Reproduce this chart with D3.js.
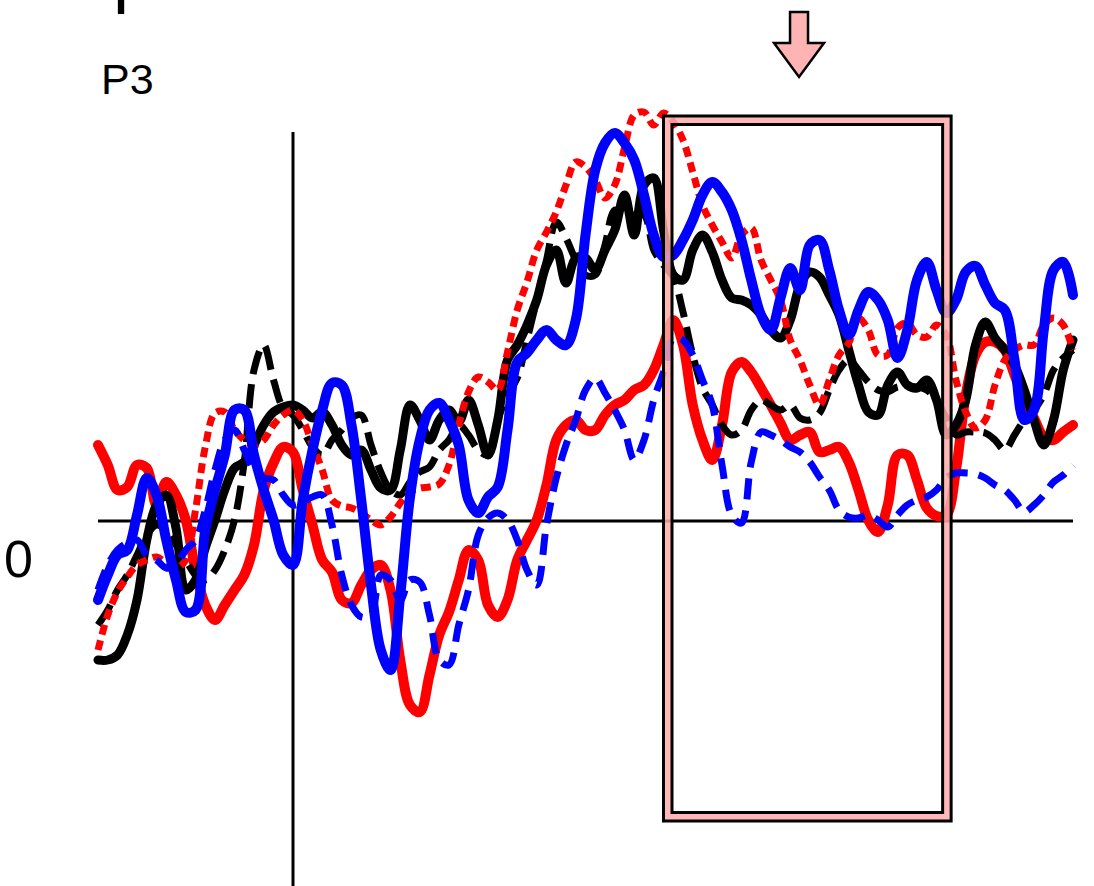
<!DOCTYPE html>
<html>
<head>
<meta charset="utf-8">
<script src="https://cdn.jsdelivr.net/npm/d3@7"></script>
<style>
  body { margin: 0; background: #fff; }
  svg { display: block; font-family: "Liberation Sans", Arial, sans-serif; }
</style>
</head>
<body>
<svg width="1094" height="886"></svg>
<script>
// time base, ms (10 ms steps)
const times = d3.range(-200, 801, 10);

// amplitudes, uV, one per time point
const blackSolid = [
  -2.78, -2.78, -2.68, -2.28, -1.58, -0.38, 0.32, 0.52, -0.14, -1.38,
  -1.18, -0.54, 0.02, 0.62, 1.06, 1.18, 1.52, 1.92, 2.18, 2.28,
  2.32, 2.22, 2.06, 2.18, 1.92, 1.52, 1.32, 1.42, 1.02, 0.66,
  0.62, 1.42, 2.32, 2.02, 1.62, 2.02, 2.22, 1.98, 2.42, 1.92,
  1.32, 2.02, 3.22, 3.52, 3.92, 4.42, 5.12, 5.42, 4.76, 5.26,
  5.26, 5.02, 5.42, 5.82, 6.52, 5.72, 6.72, 6.86, 5.82, 4.92,
  4.82, 5.42, 5.72, 5.38, 4.82, 4.46, 4.42, 4.32, 4.12, 3.82,
  3.66, 4.02, 4.72, 4.98, 4.88, 4.52, 4.12, 3.42, 2.72, 2.18,
  2.12, 2.72, 2.98, 2.72, 2.66, 2.82, 2.42, 1.72, 1.92, 2.42,
  3.52, 3.98, 3.66, 3.42, 3.12, 2.62, 2.02, 1.52, 2.02, 3.02,
  3.62
];
const blackDashed = [
  -2.08, -1.78, -1.38, -1.08, -0.68, -0.28, -0.08, -0.18, -0.48, -0.78,
  -1.08, -1.18, -0.98, -0.58, 0.02, 1.18, 3.02, 3.52, 2.82, 2.26,
  2.12, 1.82, 1.48, 1.32, 1.62, 1.82, 2.06, 2.12, 1.52, 0.98,
  0.62, 0.52, 0.78, 0.98, 1.08, 1.42, 1.62, 1.92, 1.72, 1.42,
  1.32, 2.02, 2.52, 2.86, 3.62, 4.42, 5.22, 5.98, 5.66, 5.22,
  4.92, 4.92, 5.52, 6.22, 6.12, 6.12, 6.12, 5.42, 5.12, 4.88,
  4.18, 3.32, 2.66, 2.32, 1.92, 1.72, 1.82, 2.22, 2.42, 2.32,
  2.22, 2.32, 2.06, 2.02, 2.16, 2.62, 3.02, 3.22, 3.02, 2.78,
  2.62, 2.58, 2.68, 2.68, 2.68, 2.62, 2.42, 2.06, 1.72, 1.78,
  1.78, 1.76, 1.62, 1.42, 1.72, 2.02, 2.22, 2.52, 3.02, 3.26,
  3.42
];
const redSolid = [
  1.52, 1.12, 0.62, 0.68, 1.12, 1.06, 0.32, 0.78, 0.52, 0.02,
  -0.98, -1.68, -1.98, -1.68, -1.38, -1.08, -0.48, 0.62, 1.16, 1.48,
  1.38, 0.62, -0.08, -0.78, -1.02, -1.58, -1.64, -1.28, -0.98, -0.88,
  -1.38, -2.78, -3.68, -3.82, -3.08, -2.28, -1.82, -1.18, -0.58, -0.78,
  -1.68, -1.92, -1.58, -0.78, -0.38, 0.02, 0.72, 1.62, 1.92, 2.02,
  1.82, 1.82, 2.12, 2.32, 2.42, 2.62, 2.72, 3.02, 3.52, 4.02,
  3.52, 2.32, 1.62, 1.22, 1.92, 2.98, 3.18, 2.98, 2.66, 2.32,
  1.96, 1.62, 1.72, 1.78, 1.38, 1.42, 1.48, 1.18, 0.62, 0.02,
  -0.22, 0.32, 1.32, 1.32, 0.82, 0.26, 0.10, 0.12, 1.02, 2.52,
  3.32, 3.58, 3.58, 3.42, 2.92, 2.42, 2.06, 1.68, 1.62, 1.78,
  1.92
];
const redDashed = [
  -2.58, -1.88, -1.42, -1.12, -0.88, -0.78, -0.72, -0.84, -0.94, -0.78,
  0.22, 1.48, 2.16, 2.18, 1.82, 1.62, 1.52, 1.62, 1.92, 2.12,
  2.22, 2.02, 1.52, 1.02, 0.42, 0.30, 0.26, 0.16, 0.02, -0.08,
  0.08, 0.36, 0.58, 0.66, 0.68, 0.74, 1.12, 1.92, 2.58, 2.88,
  2.78, 2.62, 3.38, 4.22, 4.78, 5.42, 5.78, 6.18, 6.72, 7.18,
  7.08, 6.82, 6.46, 6.72, 7.46, 8.12, 8.18, 7.92, 8.16, 7.98,
  7.62, 6.98, 6.32, 5.92, 5.58, 5.26, 5.72, 5.86, 5.22, 4.82,
  4.42, 3.62, 3.22, 2.72, 2.32, 2.82, 3.32, 3.56, 4.06, 3.82,
  3.32, 3.32, 3.86, 3.96, 3.72, 3.68, 3.92, 3.72, 2.82, 2.18,
  1.86, 2.02, 2.72, 3.22, 3.42, 3.52, 3.52, 3.92, 4.06, 3.92,
  3.42
];
const blueSolid = [
  -1.58, -1.08, -0.68, -0.58, 0.12, 0.86, 0.52, -0.38, -1.18, -1.82,
  -1.78, -0.18, 0.62, 1.32, 2.22, 2.22, 1.32, 0.62, 0.02, -0.68,
  -0.88, 0.42, 1.42, 2.22, 2.76, 2.72, 1.92, 0.42, -1.28, -2.58,
  -2.98, -1.48, 0.48, 1.62, 2.22, 2.36, 2.02, 1.52, 0.42, 0.16,
  0.48, 0.68, 1.82, 3.18, 3.36, 3.62, 3.82, 3.62, 3.52, 4.02,
  5.72, 7.02, 7.56, 7.76, 7.56, 7.22, 6.52, 5.72, 5.28, 5.32,
  5.62, 6.02, 6.52, 6.78, 6.58, 6.22, 5.62, 4.82, 4.12, 3.82,
  4.46, 5.06, 4.62, 5.52, 5.62, 5.02, 4.22, 3.72, 4.22, 4.58,
  4.42, 4.02, 3.26, 3.82, 4.82, 5.18, 4.62, 4.16, 4.42, 4.98,
  5.10, 4.72, 4.36, 4.22, 3.22, 2.02, 2.22, 3.82, 5.02, 5.18,
  4.52
];
const blueDashed = [
  -1.38, -0.88, -0.58, -0.44, -0.38, -0.68, -0.78, -0.94, -0.88, -0.58,
  -0.38, 0.22, 1.02, 1.62, 1.82, 1.42, 1.02, 0.86, 0.82, 0.52,
  0.32, 0.38, 0.48, 0.52, -0.08, -1.08, -1.68, -1.92, -1.88, -1.08,
  -1.18, -1.58, -1.18, -1.22, -1.88, -2.78, -2.88, -2.08, -1.38, -0.28,
  0.06, 0.16, 0.02, -0.38, -0.98, -1.28, -0.08, 0.86, 1.52, 2.02,
  2.62, 2.86, 2.56, 2.22, 1.82, 1.22, 1.62, 2.42, 2.98, 3.66,
  3.62, 3.32, 2.82, 2.32, 1.12, 0.12, -0.04, 1.18, 1.78, 1.72,
  1.62, 1.48, 1.38, 1.18, 0.88, 0.62, 0.22, 0.08, 0.06, 0.12,
  0.02, -0.12, 0.12, 0.32, 0.42, 0.48, 0.62, 0.86, 0.96, 0.96,
  0.94, 0.86, 0.72, 0.62, 0.42, 0.18, 0.32, 0.52, 0.78, 0.92,
  1.12
];

// analysis window (ms) and its vertical extent (uV)
const windowStart = 380;
const windowEnd = 675;
const windowTop = 8.1;
const windowBottom = -6.0;
const arrowTime = 519;

const channelLabel = "P3";
const zeroLabel = "0";

const svg = d3.select("svg");

const x = d3.scaleLinear().domain([-200, 800]).range([98, 1073]);
const y = d3.scaleLinear().domain([-8, 10]).range([921, 21]);

// heading cut off by the top edge: only a descender shows
svg.append("text")
  .attr("x", 113)
  .attr("y", -1)
  .attr("font-size", 72)
  .text("p");

svg.append("text")
  .attr("x", 101)
  .attr("y", 94)
  .attr("font-size", 43)
  .text(channelLabel);

svg.append("text")
  .attr("x", 4)
  .attr("y", 577)
  .attr("font-size", 52)
  .text(zeroLabel);

// axes
svg.append("line")
  .attr("x1", x(-200)).attr("x2", x(800))
  .attr("y1", y(0)).attr("y2", y(0))
  .attr("stroke", "#000").attr("stroke-width", 3);

svg.append("line")
  .attr("x1", x(0)).attr("x2", x(0))
  .attr("y1", y(7.78)).attr("y2", 886)
  .attr("stroke", "#000").attr("stroke-width", 3);

// waveforms
const series = [
  { values: redSolid,    color: "#ff0000", width: 10, dash: null },
  { values: blackSolid,  color: "#000000", width: 9,  dash: null },
  { values: blackDashed, color: "#000000", width: 7,  dash: "24,10" },
  { values: redDashed,   color: "#ff0000", width: 7,  dash: "10,6" },
  { values: blueDashed,  color: "#0000ff", width: 7,  dash: "21,11" },
  { values: blueSolid,   color: "#0000ff", width: 10, dash: null }
];

const line = d3.line()
  .x((d, i) => x(times[i]))
  .y(d => y(d))
  .curve(d3.curveCatmullRom.alpha(0.5));

svg.append("g")
  .selectAll("path")
  .data(series)
  .enter()
  .append("path")
  .attr("d", d => line(d.values))
  .attr("fill", "none")
  .attr("stroke", d => d.color)
  .attr("stroke-width", d => d.width)
  .attr("stroke-dasharray", d => d.dash)
  .attr("stroke-linejoin", "round")
  .attr("stroke-linecap", d => d.dash ? "butt" : "round");

// analysis window box (double frame with pink band)
const inset = 8.5;
const bx0 = x(windowStart), bx1 = x(windowEnd);
const by0 = y(windowTop), by1 = y(windowBottom);

const box = svg.append("g");
box.append("path")
  .attr("d", `M${bx0},${by0}H${bx1}V${by1}H${bx0}Z` +
             `M${bx0 + inset},${by0 + inset}V${by1 - inset}H${bx1 - inset}V${by0 + inset}Z`)
  .attr("fill", "#ffaaaa")
  .attr("fill-opacity", 0.85)
  .attr("fill-rule", "evenodd");
box.append("rect")
  .attr("x", bx0).attr("y", by0)
  .attr("width", bx1 - bx0).attr("height", by1 - by0)
  .attr("fill", "none").attr("stroke", "#000").attr("stroke-width", 3);
box.append("rect")
  .attr("x", bx0 + inset).attr("y", by0 + inset)
  .attr("width", bx1 - bx0 - 2 * inset).attr("height", by1 - by0 - 2 * inset)
  .attr("fill", "none").attr("stroke", "#000").attr("stroke-width", 3);

// down arrow above the window
const ax = x(arrowTime);
const arrowPts = [
  [ax - 9, 12], [ax + 9, 12], [ax + 9, 43], [ax + 25, 43],
  [ax, 77], [ax - 25, 43], [ax - 9, 43]
];
svg.append("polygon")
  .attr("points", arrowPts.map(p => p.join(",")).join(" "))
  .attr("fill", "#ffb4b4")
  .attr("stroke", "#000")
  .attr("stroke-width", 2.5)
  .attr("stroke-linejoin", "miter");
</script>
</body>
</html>
